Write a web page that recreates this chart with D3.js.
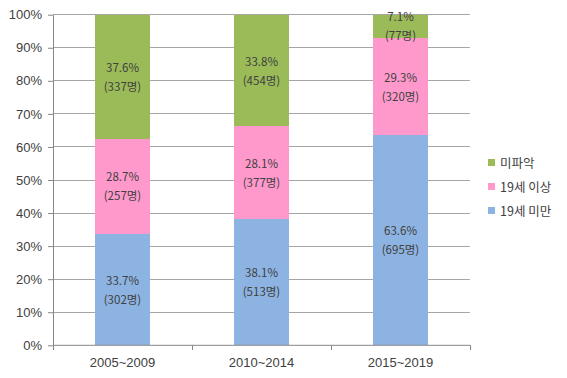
<!DOCTYPE html>
<html><head><meta charset="utf-8">
<script src="https://cdn.jsdelivr.net/npm/d3@7"></script>
<style>
body{margin:0;background:#fff;}
svg{font-family:"Malgun Gothic","Noto Sans CJK KR","Noto Sans",sans-serif;}
</style></head>
<body>
<svg id="c" width="567" height="378"></svg>
<script>
const categories = ["2005~2009","2010~2014","2015~2019"];
const seriesNames = ["19세 미만","19세 이상","미파악"];
const under19 = [33.7, 38.1, 63.6];
const over19 = [28.7, 28.1, 29.3];
const unknown = [37.6, 33.8, 7.1];
const under19N = [302, 513, 695];
const over19N = [257, 377, 320];
const unknownN = [337, 454, 77];
const colors = ["#8db3e2","#ff99cc","#9bbb59"];
const yTicks = [0,10,20,30,40,50,60,70,80,90,100];

const svg = d3.select("#c");
const L = 53, R = 470, T = 14.7, B = 345.3;
const x = d3.scaleBand().domain(categories).range([L,R]).paddingInner(0.6).paddingOuter(0.3);
const y = d3.scaleLinear().domain([0,100]).range([B,T]);

// gridlines
svg.append("g").selectAll("line").data(yTicks.filter(d=>d>0)).join("line")
  .attr("x1",L).attr("x2",R).attr("y1",d=>y(d)).attr("y2",d=>y(d))
  .attr("stroke","#a6a6a6").attr("stroke-width",1).attr("shape-rendering","crispEdges");

const vals = [under19, over19, unknown];
const counts = [under19N, over19N, unknownN];
const rows = categories.map((c,i)=>{ const o={cat:c}; seriesNames.forEach((s,k)=>o[s]=vals[k][i]); return o; });
const stacked = d3.stack().keys(seriesNames)(rows);

const g = svg.append("g");
stacked.forEach((layer,k)=>{
  g.selectAll(null).data(layer).join("rect")
    .attr("x",d=>x(d.data.cat)).attr("width",x.bandwidth())
    .attr("y",d=>y(d[1])).attr("height",d=>y(d[0])-y(d[1]))
    .attr("fill",colors[k]).attr("shape-rendering","crispEdges");
});
stacked.forEach((layer,k)=>{
  layer.forEach((d,i)=>{
    const cx = x(d.data.cat)+x.bandwidth()/2;
    const cy = (y(d[0])+y(d[1]))/2;
    const t = g.append("text").attr("text-anchor","middle").attr("font-size",11.5).attr("fill","#404040");
    t.append("tspan").attr("x",cx).attr("y",cy-5).text(vals[k][i].toFixed(1)+"%");
    t.append("tspan").attr("x",cx).attr("y",cy+14).text("("+counts[k][i]+"명)");
  });
});

// y axis
const ya = svg.append("g").attr("transform",`translate(${L},0)`)
  .call(d3.axisLeft(y).tickValues(yTicks).tickFormat(d=>d+"%").tickSize(5).tickSizeOuter(0));
ya.select(".domain").attr("stroke","#868686");
ya.selectAll(".tick line").attr("stroke","#868686");
ya.selectAll("text").attr("font-size",13).attr("fill","#404040").attr("font-family","inherit").attr("x",-11);

// x axis
const xa = svg.append("g").attr("transform",`translate(0,${B})`)
  .call(d3.axisBottom(x).tickSize(0).tickSizeOuter(0));
xa.select(".domain").attr("stroke","#868686").attr("d",`M${L},0H${R}`);
xa.selectAll("text").attr("font-size",13).attr("fill","#404040").attr("font-family","inherit").attr("dy","1.45em");
const step = x.step();
svg.append("g").selectAll("line").data(d3.range(4)).join("line")
  .attr("x1",d=>L+d*(R-L)/3).attr("x2",d=>L+d*(R-L)/3)
  .attr("y1",B).attr("y2",B+5).attr("stroke","#868686").attr("shape-rendering","crispEdges");

// legend
const leg = svg.append("g");
const legOrder = [2,1,0];
const legY = [163,187,211];
legOrder.forEach((k,j)=>{
  leg.append("rect").attr("x",488).attr("y",legY[j]-4).attr("width",7).attr("height",7).attr("fill",colors[k]);
  leg.append("text").attr("x",500).attr("y",legY[j]+4.5).attr("font-size",12.5).attr("fill","#404040").text(seriesNames[k]);
});
</script>
</body></html>
